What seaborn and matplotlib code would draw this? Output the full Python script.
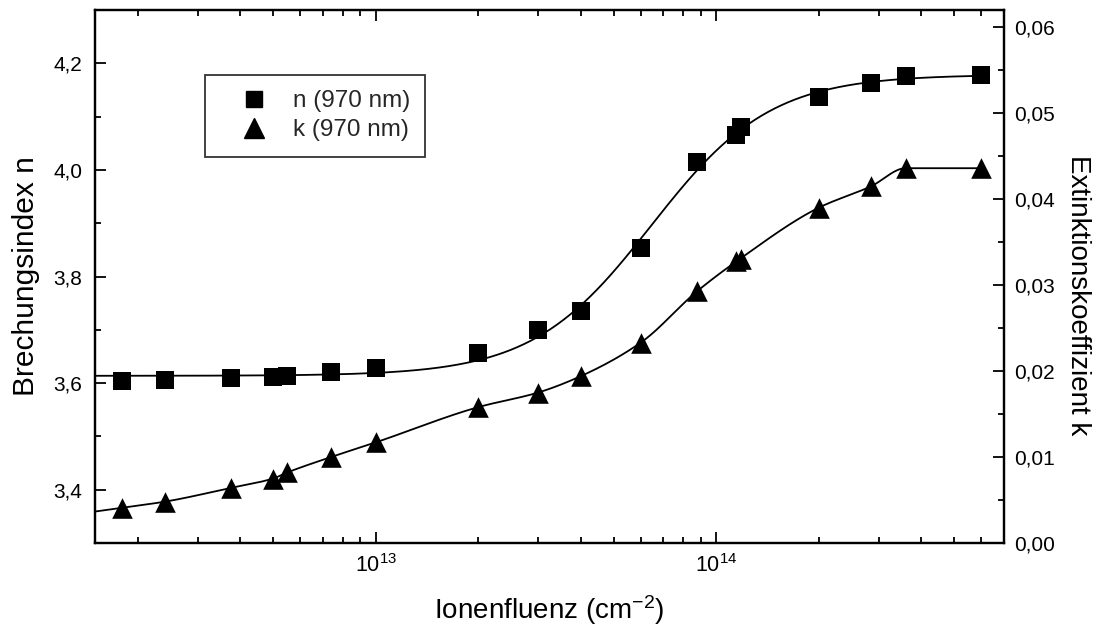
import numpy as np
import pandas as pd
import matplotlib
matplotlib.use("Agg")
import matplotlib.pyplot as plt
import seaborn as sns
from matplotlib.ticker import LogLocator, MultipleLocator, FuncFormatter, NullFormatter
from matplotlib.lines import Line2D

# ---- data ----
fluence = [1.8e12, 2.4e12, 3.75e12, 5.0e12, 5.5e12, 7.4e12, 1.0e13, 2.0e13, 3.0e13,
           4.0e13, 6.0e13, 8.8e13, 1.14e14, 1.18e14, 2.0e14, 2.85e14, 3.6e14, 6.0e14]
n_values = [3.604, 3.606, 3.610, 3.612, 3.614, 3.620, 3.628, 3.657, 3.700,
            3.736, 3.854, 4.014, 4.065, 4.081, 4.136, 4.163, 4.176, 4.179]
k_values = [0.0041, 0.0048, 0.0064, 0.0075, 0.0082, 0.0100, 0.0117, 0.0158, 0.0175,
            0.0194, 0.0233, 0.0293, 0.0328, 0.0330, 0.0390, 0.0415, 0.0436, 0.0436]
legend_labels = ["n (970 nm)", "k (970 nm)"]
x_label = "Ionenfluenz (cm$^{-2}$)"
y_label_left = "Brechungsindex n"
y_label_right = "Extinktionskoeffizient k"

x_min, x_max = 1.5e12, 7.0e14

df = pd.DataFrame({"fluence": fluence, "n": n_values, "k": k_values})
lx = np.log10(df["fluence"].values)

# ---- Boltzmann fit (in log fluence) for the n curve ----
nv = df["n"].values
best = None
for x0 in np.linspace(13.5, 14.2, 71):
    for dx in np.linspace(0.08, 0.45, 75):
        f = 1.0 / (1.0 + np.exp((lx - x0) / dx))
        A = np.column_stack([f, 1 - f])
        coef = np.linalg.lstsq(A, nv, rcond=None)[0]
        r = ((A @ coef - nv) ** 2).sum()
        if best is None or r < best[0]:
            best = (r, x0, dx, coef)
_, bx0, bdx, bcoef = best
lgrid_n = np.linspace(np.log10(x_min), lx[-1], 400)
fn = 1.0 / (1.0 + np.exp((lgrid_n - bx0) / bdx))
n_curve = pd.DataFrame({"fluence": 10 ** lgrid_n, "n": bcoef[0] * fn + bcoef[1] * (1 - fn)})

# ---- smooth monotone connection (PCHIP) for the k curve ----
def pchip(x, y, xn):
    x = np.asarray(x, float); y = np.asarray(y, float)
    h = np.diff(x); d = np.diff(y) / h
    m = np.zeros_like(y)
    for i in range(1, len(x) - 1):
        if d[i - 1] * d[i] <= 0:
            m[i] = 0.0
        else:
            w1 = 2 * h[i] + h[i - 1]; w2 = h[i] + 2 * h[i - 1]
            m[i] = (w1 + w2) / (w1 / d[i - 1] + w2 / d[i])
    m[0] = d[0]; m[-1] = d[-1]
    out = np.empty_like(xn)
    for j, xv in enumerate(xn):
        if xv <= x[0]:
            out[j] = y[0] + m[0] * (xv - x[0]); continue
        i = min(np.searchsorted(x, xv) - 1, len(x) - 2)
        t = (xv - x[i]) / h[i]
        h00 = 2 * t**3 - 3 * t**2 + 1; h10 = t**3 - 2 * t**2 + t
        h01 = -2 * t**3 + 3 * t**2; h11 = t**3 - t**2
        out[j] = h00 * y[i] + h10 * h[i] * m[i] + h01 * y[i + 1] + h11 * h[i] * m[i + 1]
    return out

# merge near-coincident fluences (average) so the connecting curve stays smooth
kv = df["k"].values
mx, my, cnt = [lx[0]], [kv[0]], [1]
for xi, yi in zip(lx[1:], kv[1:]):
    if abs(xi - mx[-1]) < 0.03:
        c = cnt[-1]
        mx[-1] = (mx[-1] * c + xi) / (c + 1); my[-1] = (my[-1] * c + yi) / (c + 1); cnt[-1] = c + 1
    else:
        mx.append(xi); my.append(yi); cnt.append(1)
lgrid_k = np.linspace(np.log10(x_min), lx[-1], 500)
k_curve = pd.DataFrame({"fluence": 10 ** lgrid_k, "k": pchip(mx, my, lgrid_k)})

# ---- style ----
sns.set_theme(style="ticks")
plt.rcParams["font.family"] = ["Liberation Sans", "DejaVu Sans"]
plt.rcParams["mathtext.fontset"] = "custom"
plt.rcParams["mathtext.rm"] = "Liberation Sans"
plt.rcParams["mathtext.it"] = "Liberation Sans:italic"
plt.rcParams["mathtext.default"] = "regular"

fig = plt.figure(figsize=(11.05, 6.28), dpi=100)
ax = fig.add_axes([0.086, 0.1354, 0.8226, 0.8486])
ax2 = ax.twinx()

sns.lineplot(data=n_curve, x="fluence", y="n", ax=ax, color="black", lw=1.3, legend=False)
sns.scatterplot(data=df, x="fluence", y="n", ax=ax, marker="s", s=150, color="black",
                edgecolor="black", linewidth=0, legend=False, zorder=5)
sns.lineplot(data=k_curve, x="fluence", y="k", ax=ax2, color="black", lw=1.3, legend=False)
sns.scatterplot(data=df, x="fluence", y="k", ax=ax2, marker="^", s=220, color="black",
                edgecolor="black", linewidth=0, legend=False, zorder=5)

ax.set_xscale("log")
ax.set_xlim(x_min, x_max)
ax.set_ylim(3.3, 4.3)
ax2.set_ylim(0.0, 0.062)

comma = lambda fmt: FuncFormatter(lambda v, p: (fmt % v).replace(".", ","))
ax.xaxis.set_major_locator(LogLocator(base=10, numticks=10))
ax.xaxis.set_major_formatter(FuncFormatter(lambda v, p: r"$10^{%d}$" % round(np.log10(v))))
ax.xaxis.set_minor_locator(LogLocator(base=10, subs=np.arange(2, 10), numticks=20))
ax.xaxis.set_minor_formatter(NullFormatter())
ax.yaxis.set_major_locator(MultipleLocator(0.2))
ax.yaxis.set_minor_locator(MultipleLocator(0.1))
ax.yaxis.set_major_formatter(comma("%.1f"))
ax2.yaxis.set_major_locator(MultipleLocator(0.01))
ax2.yaxis.set_minor_locator(MultipleLocator(0.005))
ax2.yaxis.set_major_formatter(comma("%.2f"))

for a in (ax, ax2):
    for s in a.spines.values():
        s.set_linewidth(1.6)
        s.set_color("black")
ax.tick_params(axis="x", which="both", direction="in", top=True, bottom=True,
               width=1.3, labelsize=15.5, pad=8, colors="black")
ax.tick_params(axis="x", which="major", length=8)
ax.tick_params(axis="x", which="minor", length=4)
ax.tick_params(axis="y", which="both", direction="in", left=True, right=False,
               width=1.3, labelsize=15, pad=9, colors="black")
ax.tick_params(axis="y", which="major", length=8)
ax.tick_params(axis="y", which="minor", length=4)
ax2.tick_params(axis="y", which="both", direction="in", right=True, left=False,
                width=1.3, labelsize=15, pad=7, colors="black")
ax2.tick_params(axis="y", which="major", length=8)
ax2.tick_params(axis="y", which="minor", length=4)

ax.set_xlabel(x_label, fontsize=20, labelpad=12, color="black")
ax.set_ylabel(y_label_left, fontsize=21.5, labelpad=10, color="black")
ax2.set_ylabel(y_label_right, fontsize=20, labelpad=26, rotation=270, color="black")
ax2.yaxis.label.set_y(0.465)

handles = [Line2D([], [], marker="s", color="black", ls="none", markersize=11),
           Line2D([], [], marker="^", color="black", ls="none", markersize=14)]
leg = ax.legend(handles, legend_labels, loc="upper left", bbox_to_anchor=(0.121, 0.878),
                borderaxespad=0, frameon=True, fancybox=False, fontsize=17.5,
                handletextpad=0.2, borderpad=0.62, labelspacing=0.3, handlelength=2.8)
leg.get_frame().set_edgecolor("black")
leg.get_frame().set_linewidth(1.3)
leg.set_zorder(10)

fig.savefig("out.png", dpi=100)
